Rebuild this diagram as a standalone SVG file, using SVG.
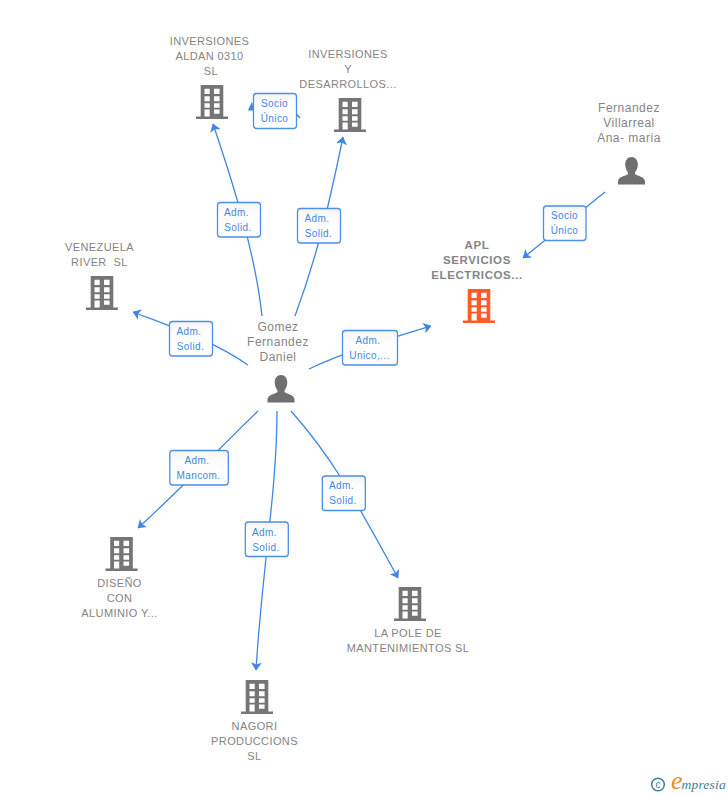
<svg xmlns="http://www.w3.org/2000/svg" width="728" height="795" viewBox="0 0 728 795">
<style>
.bg{fill:#fff}
.e{fill:none;stroke:#3f86e4;stroke-width:1.3;marker-end:url(#arr)}
.lb{fill:url(#lg);stroke:#4a8fe8;stroke-width:1.3}
.lt{font:10px "Liberation Sans",Arial,sans-serif;letter-spacing:.4px;fill:#3f86e4;text-anchor:middle}
.n{font:11px "Liberation Sans",Arial,sans-serif;letter-spacing:.4px;fill:#848484;text-anchor:middle;white-space:pre}
.p{font:12px "Liberation Sans",Arial,sans-serif;letter-spacing:.5px;fill:#848484;text-anchor:middle}
.b{font-weight:bold;font-size:11.5px;letter-spacing:.6px}
</style>
<defs>
<linearGradient id="lg" x1="0" y1="0" x2="0" y2="1"><stop offset="0" stop-color="#f6f6f6"/><stop offset=".45" stop-color="#fff"/></linearGradient>
<marker id="arr" viewBox="0 0 8 11" refX="7.500" refY="5.500" markerWidth="8" markerHeight="11" markerUnits="userSpaceOnUse" orient="auto"><path d="M0 0L8 5.500L0 11L2 5.500Z" fill="#3f86e4"/></marker>
<symbol id="bld" viewBox="0 0 32 34" width="32" height="34" overflow="visible">
<path fill-rule="evenodd" d="M4.700 0H27.300V31.500H32V34H0V31.500H4.700ZM8.500 3.800V9H13.700V3.800ZM18 3.800V9H23.600V3.800ZM8.500 11.200V16.200H13.700V11.200ZM18 11.200V16.200H23.600V11.200ZM8.500 18.200V22.700H13.700V18.200ZM18 18.200V22.700H23.600V18.200ZM8.500 24.500V31.500H13.700V24.500ZM18 24.500V28.800H23.600V24.500Z"/>
</symbol>
<symbol id="per" viewBox="0 0 28 28" width="28" height="28" overflow="visible">
<path d="M14 0C18 0 20.300 3.300 20.300 7.500C20.300 10.800 19 13.500 17.600 15.200V17.200C20 18.800 27.500 19.800 27.500 24.500V27.500H0.500V24.500C0.500 19.800 8 18.800 10.400 17.200V15.200C9 13.500 7.700 10.800 7.700 7.500C7.700 3.300 10 0 14 0Z"/>
</symbol>
</defs>
<rect class="bg" width="728" height="795"/>
<g id="connectors">
<path class="e" d="M262 316C257 270 244 215 213 124"/>
<path class="e" d="M295 316C315 262 327 215 343 137"/>
<path class="e" d="M248 365C215 342 180 330 133 312"/>
<path class="e" d="M309 369C345 352 385 340 431 326"/>
<path class="e" d="M258 411C220 448 180 490 138 528"/>
<path class="e" d="M277 411C277 490 262 570 256 670"/>
<path class="e" d="M291 411C330 455 350 490 398 578"/>
<path class="e" d="M605 192L523 258"/>
<path class="e" d="M300 118C285 100 265 100 248.500 110"/>
</g>
<g id="edge-labels">
<g><rect class="lb" x="253.500" y="93.500" width="43" height="35" rx="3"/><text class="lt" x="274.500" y="107">Socio</text><text class="lt" x="274.500" y="122">Único</text></g>
<g><rect class="lb" x="217.500" y="202.500" width="43" height="34.500" rx="3"/><text class="lt" x="236.500" y="216">Adm.</text><text class="lt" x="238" y="231">Solid.</text></g>
<g><rect class="lb" x="297.500" y="208.500" width="43" height="34.500" rx="3"/><text class="lt" x="317" y="222">Adm.</text><text class="lt" x="318.500" y="237">Solid.</text></g>
<g><rect class="lb" x="543.500" y="206" width="42.500" height="34.500" rx="3"/><text class="lt" x="564.500" y="219">Socio</text><text class="lt" x="564.500" y="234">Único</text></g>
<g><rect class="lb" x="169.500" y="321.500" width="43" height="34.500" rx="3"/><text class="lt" x="189" y="335">Adm.</text><text class="lt" x="190.500" y="350">Solid.</text></g>
<g><rect class="lb" x="342.500" y="330.500" width="55" height="34.500" rx="3"/><text class="lt" x="368" y="344">Adm.</text><text class="lt" x="369.500" y="359">Unico,...</text></g>
<g><rect class="lb" x="169.800" y="450.500" width="58.500" height="34.500" rx="3"/><text class="lt" x="197" y="464">Adm.</text><text class="lt" x="198.500" y="479">Mancom.</text></g>
<g><rect class="lb" x="245.300" y="522" width="43" height="34.500" rx="3"/><text class="lt" x="264.500" y="536">Adm.</text><text class="lt" x="266" y="551">Solid.</text></g>
<g><rect class="lb" x="322.300" y="476" width="43" height="34.500" rx="3"/><text class="lt" x="341.500" y="489">Adm.</text><text class="lt" x="343" y="504">Solid.</text></g>
</g>
<g id="node-aldan"><use href="#bld" x="196" y="85" fill="#757575"/><text class="n" x="209.500" y="45">INVERSIONES</text><text class="n" x="209.500" y="60">ALDAN 0310</text><text class="n" x="211" y="75">SL</text></g>
<g id="node-desarrollos"><use href="#bld" x="334" y="98" fill="#757575"/><text class="n" x="348" y="58">INVERSIONES</text><text class="n" x="348" y="73">Y</text><text class="n" x="348" y="88">DESARROLLOS...</text></g>
<g id="node-fernandez"><use href="#per" x="617.500" y="157" fill="#6f6f6f"/><text class="p" x="629" y="112">Fernandez</text><text class="p" x="629" y="127">Villarreal</text><text class="p" x="629" y="142">Ana- maria</text></g>
<g id="node-apl"><use href="#bld" x="463" y="289" fill="#ff5a29"/><text class="n b" x="477" y="249">APL</text><text class="n b" x="477" y="264">SERVICIOS</text><text class="n b" x="477" y="279">ELECTRICOS...</text></g>
<g id="node-venezuela"><use href="#bld" x="86" y="276" fill="#757575"/><text class="n" x="99.500" y="251">VENEZUELA</text><text class="n" x="99.500" y="266">RIVER  SL</text></g>
<g id="node-gomez"><use href="#per" x="267" y="375" fill="#6f6f6f"/><text class="p" x="278" y="331">Gomez</text><text class="p" x="278" y="346">Fernandez</text><text class="p" x="278" y="361">Daniel</text></g>
<g id="node-diseno"><use href="#bld" x="105.500" y="537" fill="#757575"/><text class="n" x="119.500" y="587">DISEÑO</text><text class="n" x="119.500" y="602">CON</text><text class="n" x="119.500" y="617">ALUMINIO Y...</text></g>
<g id="node-lapole"><use href="#bld" x="394" y="587" fill="#757575"/><text class="n" x="408" y="637">LA POLE DE</text><text class="n" x="408" y="652">MANTENIMIENTOS SL</text></g>
<g id="node-nagori"><use href="#bld" x="241" y="680" fill="#757575"/><text class="n" x="254.500" y="730">NAGORI</text><text class="n" x="254.500" y="745">PRODUCCIONS</text><text class="n" x="254.500" y="760">SL</text></g>
<g id="logo">
<circle cx="658" cy="784.500" r="6.300" fill="none" stroke="#3d7f93" stroke-width="1.500"/>
<text x="658" y="788" font-family="'Liberation Sans',sans-serif" font-size="10" fill="#3d7f93" text-anchor="middle">c</text>
<text x="671" y="789" font-family="'Liberation Serif',serif" font-style="italic" font-size="26" fill="#f08a1d">e</text>
<text x="681.500" y="789" font-family="'Liberation Serif',serif" font-style="italic" font-size="13.500" letter-spacing=".2" fill="#3d7f93">mpresia</text>
</g>
</svg>
